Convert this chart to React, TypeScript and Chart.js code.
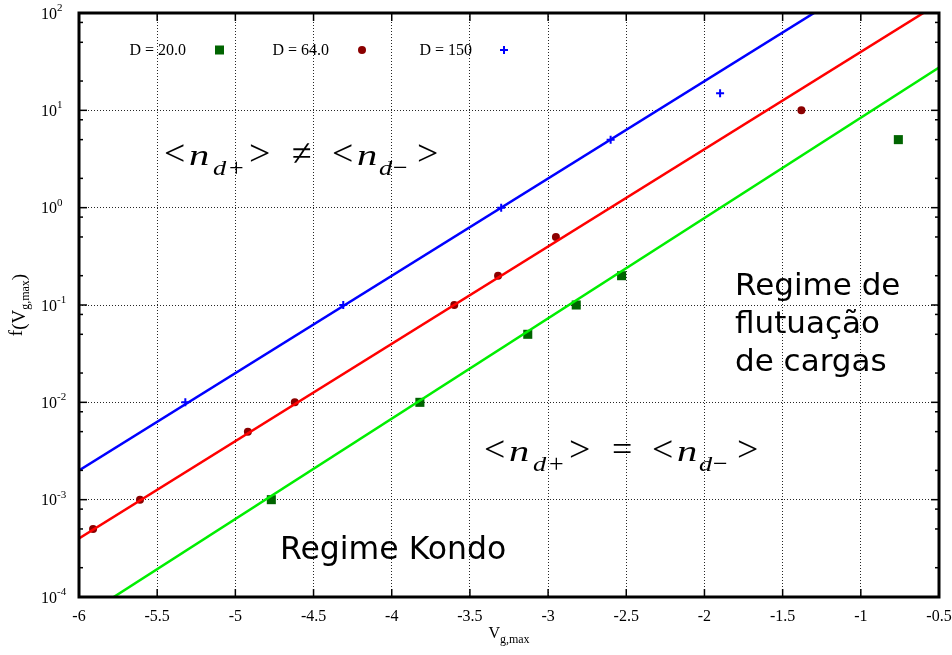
import React, { useEffect, useRef } from "react";
import { Chart, registerables } from "chart.js";

Chart.register(...registerables);

// ---- data ----
const xTicks = [-6, -5.5, -5, -4.5, -4, -3.5, -3, -2.5, -2, -1.5, -1, -0.5];
const xTickLabels = ["-6", "-5.5", "-5", "-4.5", "-4", "-3.5", "-3", "-2.5", "-2", "-1.5", "-1", "-0.5"];
const yTicks = [1e-4, 1e-3, 1e-2, 1e-1, 1, 10, 100];
const yTickExponents = ["-4", "-3", "-2", "-1", "0", "1", "2"];
const yMinorFactors = [2, 5, 8];

const legendLabels = ["D = 20.0", "D = 64.0", "D = 150"];

const xD20 = [-4.77, -3.82, -3.13, -2.82, -2.53, -0.76];
const yD20 = [1e-3, 1e-2, 5e-2, 0.1, 0.2, 5];
const xD64 = [-5.91, -5.61, -4.92, -4.62, -3.6, -3.32, -2.95, -1.38];
const yD64 = [5e-4, 1e-3, 5e-3, 1e-2, 0.1, 0.2, 0.5, 10];
const xD150 = [-5.32, -4.31, -3.3, -2.6, -1.9];
const yD150 = [1e-2, 0.1, 1, 5, 15];

const fitX = [-6, -0.5];
const fitD20 = [5.9e-5, 27.5];
const fitD64 = [4.0e-4, 126];
const fitD150 = [2.0e-3, 630];

const colD20 = "#006400";
const colD64 = "#8b0000";
const colD150 = "#0000ff";
const lineD20 = "#00ee00";
const lineD64 = "#ff0000";
const lineD150 = "#0000ff";

const pts = (xs: number[], ys: number[]) => xs.map((x, i) => ({ x, y: ys[i] }));

const SERIF = "'Liberation Serif', 'Times New Roman', serif";
const SANS = "'DejaVu Sans', sans-serif";

function drawMath(ctx: CanvasRenderingContext2D, x0: number, base: number, rel: string, sub2: string) {
  const big = `36px ${SERIF}`;
  const nf = `italic 30px ${SERIF}`;
  const sf = `italic 22px ${SERIF}`;
  const sr = `26px ${SERIF}`;
  // [dx, dy, font, text, scaleX]
  const glyphs: [number, number, string, string, number][] = [
    [-1, 0, big, "<", 1.05],
    [24, 0, nf, "n", 1.35],
    [48, 10, sf, "d", 1.2],
    [64, 11, sr, "+", 1],
    [84, 0, big, ">", 1.05],
    [127, 0, big, rel, 1],
    [167, 0, big, "<", 1.05],
    [192, 0, nf, "n", 1.35],
    [214, 10, sf, "d", 1.2],
    [228, 11, sr, sub2, 1],
    [252, 0, big, ">", 1.05],
  ];
  ctx.fillStyle = "#000";
  ctx.textAlign = "left";
  ctx.textBaseline = "alphabetic";
  for (const [dx, dy, f, t, s] of glyphs) {
    ctx.save();
    ctx.font = f;
    ctx.translate(x0 + dx, base + dy);
    ctx.scale(s, 1);
    ctx.fillText(t, 0, 0);
    ctx.restore();
  }
}

const decor = {
  id: "decor",
  afterDraw(chart: any) {
    const { ctx, chartArea: a, scales } = chart;
    const x = scales.x;
    const y = scales.y;
    ctx.save();
    const seg = (x1: number, y1: number, x2: number, y2: number) => {
      ctx.beginPath();
      ctx.moveTo(x1, y1);
      ctx.lineTo(x2, y2);
      ctx.stroke();
    };
    // ticks
    ctx.strokeStyle = "#000";
    ctx.lineWidth = 1.5;
    xTicks.forEach((v) => {
      const px = x.getPixelForValue(v);
      seg(px, a.bottom, px, a.bottom - 8);
      seg(px, a.top, px, a.top + 8);
    });
    yTicks.forEach((v) => {
      const py = y.getPixelForValue(v);
      seg(a.left, py, a.left + 8, py);
      seg(a.right, py, a.right - 8, py);
    });
    yTicks.slice(0, -1).forEach((v) => {
      yMinorFactors.forEach((f) => {
        const py = y.getPixelForValue(v * f);
        seg(a.left, py, a.left + 4, py);
        seg(a.right, py, a.right - 4, py);
      });
    });
    // frame
    ctx.lineWidth = 3;
    ctx.strokeRect(a.left, a.top, a.right - a.left, a.bottom - a.top);

    // x tick labels
    ctx.fillStyle = "#000";
    ctx.font = `16px ${SERIF}`;
    ctx.textAlign = "center";
    ctx.textBaseline = "alphabetic";
    xTicks.forEach((v, i) => {
      ctx.fillText(xTickLabels[i], x.getPixelForValue(v), a.bottom + 24);
    });
    // y tick labels
    yTicks.forEach((v, i) => {
      const py = y.getPixelForValue(v);
      ctx.textAlign = "left";
      ctx.font = `16px ${SERIF}`;
      ctx.fillText("10", 41, py + 5.5);
      const w = ctx.measureText("10").width;
      ctx.font = `11px ${SERIF}`;
      ctx.fillText(yTickExponents[i], 41 + w, py - 2);
    });

    // x title
    const xc = (a.left + a.right) / 2;
    ctx.font = `16px ${SERIF}`;
    const wV = ctx.measureText("V").width;
    ctx.font = `12px ${SERIF}`;
    const wS = ctx.measureText("g,max").width;
    const xs = xc - (wV + wS) / 2;
    ctx.textAlign = "left";
    ctx.font = `16px ${SERIF}`;
    ctx.fillText("V", xs, a.bottom + 41);
    ctx.font = `12px ${SERIF}`;
    ctx.fillText("g,max", xs + wV, a.bottom + 46);

    // y title (rotated)
    ctx.save();
    const yc = (a.top + a.bottom) / 2;
    ctx.translate(22, yc);
    ctx.rotate(-Math.PI / 2);
    ctx.font = `19px ${SERIF}`;
    const w1 = ctx.measureText("f(V").width;
    const w3 = ctx.measureText(")").width;
    ctx.font = `12px ${SERIF}`;
    const w2 = ctx.measureText("g,max").width;
    const sx = -(w1 + w2 + w3) / 2;
    ctx.font = `19px ${SERIF}`;
    ctx.fillText("f", sx, 0);
    const wf = ctx.measureText("f").width;
    ctx.fillText("(V", sx + wf, 3);
    ctx.font = `12px ${SERIF}`;
    ctx.fillText("g,max", sx + w1, 7);
    ctx.font = `19px ${SERIF}`;
    ctx.fillText(")", sx + w1 + w2, 3);
    ctx.restore();

    // legend
    const legX = [186, 329, 472];
    const legY = 50;
    ctx.font = `16px ${SERIF}`;
    ctx.textAlign = "right";
    ctx.textBaseline = "middle";
    legendLabels.forEach((t, i) => {
      ctx.fillStyle = "#000";
      ctx.fillText(t, legX[i], legY + 1);
    });
    ctx.fillStyle = colD20;
    ctx.fillRect(legX[0] + 29, legY - 4.5, 9, 9);
    ctx.fillStyle = colD64;
    ctx.beginPath();
    ctx.arc(legX[1] + 33, legY, 4, 0, Math.PI * 2);
    ctx.fill();
    ctx.strokeStyle = colD150;
    ctx.lineWidth = 2;
    seg(legX[2] + 28, legY, legX[2] + 36, legY);
    seg(legX[2] + 32, legY - 4, legX[2] + 32, legY + 4);

    // annotations
    drawMath(ctx, 165, 165, "\u2260", "\u2212");
    drawMath(ctx, 485, 461, "=", "\u2212");

    ctx.fillStyle = "#000";
    ctx.textAlign = "left";
    ctx.textBaseline = "alphabetic";
    ctx.font = `31px ${SANS}`;
    ctx.fillText("Regime de", 735, 295);
    ctx.fillText("flutuação", 735, 333);
    ctx.fillText("de cargas", 735, 371);
    ctx.font = `31.5px ${SANS}`;
    ctx.fillText("Regime Kondo", 280, 559);

    ctx.restore();
  },
};

export default function App() {
  const ref = useRef<HTMLCanvasElement | null>(null);
  useEffect(() => {
    if (!ref.current) return;
    const chart = new Chart(ref.current, {
      type: "scatter",
      data: {
        datasets: [
          { data: pts(fitX, fitD150), showLine: true, borderColor: lineD150, borderWidth: 2.5, pointRadius: 0 },
          { data: pts(fitX, fitD64), showLine: true, borderColor: lineD64, borderWidth: 2.5, pointRadius: 0 },
          { data: pts(fitX, fitD20), showLine: true, borderColor: lineD20, borderWidth: 2.5, pointRadius: 0 },
          {
            label: legendLabels[0],
            data: pts(xD20, yD20),
            pointStyle: "rect",
            pointRadius: 6.4,
            backgroundColor: colD20,
            borderColor: colD20,
            borderWidth: 0,
          },
          {
            label: legendLabels[1],
            data: pts(xD64, yD64),
            pointStyle: "circle",
            pointRadius: 4,
            backgroundColor: colD64,
            borderColor: colD64,
            borderWidth: 0,
          },
          {
            label: legendLabels[2],
            data: pts(xD150, yD150),
            pointStyle: "cross",
            pointRadius: 4,
            backgroundColor: colD150,
            borderColor: colD150,
            borderWidth: 2,
          },
        ],
      } as any,
      options: {
        animation: false,
        responsive: false,
        events: [],
        layout: { padding: { left: 79, right: 13, top: 13, bottom: 58 } },
        plugins: { legend: { display: false }, tooltip: { enabled: false } },
        scales: {
          x: {
            type: "linear",
            min: -6,
            max: -0.5,
            afterBuildTicks: (s: any) => {
              s.ticks = xTicks.map((v) => ({ value: v }));
            },
            ticks: { display: false },
            grid: { color: "rgba(0,0,0,0.85)", lineWidth: 1, drawTicks: false },
            border: { display: false, dash: [1, 2] },
          },
          y: {
            type: "logarithmic",
            min: 1e-4,
            max: 100,
            afterBuildTicks: (s: any) => {
              s.ticks = yTicks.map((v) => ({ value: v }));
            },
            ticks: { display: false },
            grid: { color: "rgba(0,0,0,0.85)", lineWidth: 1, drawTicks: false },
            border: { display: false, dash: [1, 2] },
          },
        },
      } as any,
      plugins: [decor],
    });
    return () => chart.destroy();
  }, []);
  return (
    <div style={{ position: "fixed", left: 0, top: 0, width: 952, height: 655, background: "#fff" }}>
      <canvas ref={ref} width={952} height={655} />
    </div>
  );
}
